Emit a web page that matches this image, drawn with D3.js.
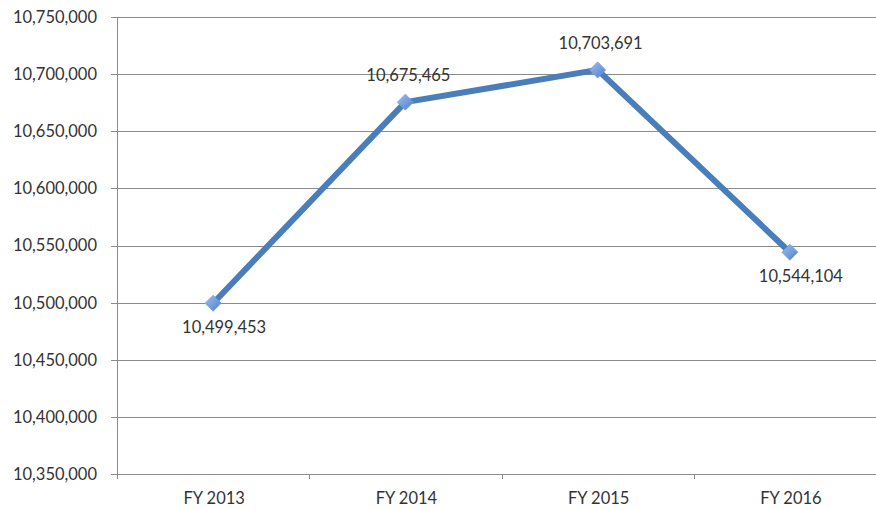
<!DOCTYPE html>
<html>
<head>
<meta charset="utf-8">
<script src="https://cdn.jsdelivr.net/npm/d3@7"></script>
<style>
  body { margin: 0; background: #fff; }
  text { font-family: Lato, "Open Sans", sans-serif; }
</style>
</head>
<body>
<div id="chart"></div>
<script>
// Chart data
const years = ["FY 2013", "FY 2014", "FY 2015", "FY 2016"];
const totals = [10499453, 10675465, 10703691, 10544104];
const yTicks = [10350000, 10400000, 10450000, 10500000, 10550000, 10600000, 10650000, 10700000, 10750000];
// where each value label sits relative to its point
const labelSide = ["below", "above", "above", "below"];

const width = 876, height = 510;

const svg = d3.select("#chart")
    .append("svg")
    .attr("width", width)
    .attr("height", height);

const x = d3.scaleBand()
    .domain(years)
    .range([117, 886]);

const y = d3.scaleLinear()
    .domain([10350000, 10750000])
    .range([474, 17]);

const fmt = d3.format(",");

// Gradient for the diamond markers
const grad = svg.append("defs").append("linearGradient")
    .attr("id", "mk")
    .attr("x1", "0").attr("y1", "0").attr("x2", "1").attr("y2", "1");
grad.append("stop").attr("offset", "0%").attr("stop-color", "#9dbdf0");
grad.append("stop").attr("offset", "100%").attr("stop-color", "#4f81c8");

// Horizontal gridlines
svg.append("g")
    .selectAll("line")
    .data(yTicks)
    .join("line")
    .attr("x1", 111)
    .attr("x2", width)
    .attr("y1", d => Math.round(y(d)) + 0.5)
    .attr("y2", d => Math.round(y(d)) + 0.5)
    .attr("stroke", "#8c8c8c")
    .attr("stroke-width", 1);

// Y axis labels
svg.append("g")
    .selectAll("text")
    .data(yTicks)
    .join("text")
    .attr("x", 97)
    .attr("y", d => y(d))
    .attr("dy", "0.36em")
    .attr("text-anchor", "end")
    .attr("font-size", "16.5px")
    .attr("fill", "#333")
    .text(d => fmt(d));

// Y axis line
svg.append("line")
    .attr("x1", 117.5).attr("x2", 117.5)
    .attr("y1", y(10750000)).attr("y2", 479)
    .attr("stroke", "#8c8c8c");

// X axis category ticks
const xBounds = years.map(d => x(d)).concat([x.range()[1]]);
svg.append("g")
    .selectAll("line")
    .data(xBounds)
    .join("line")
    .attr("x1", d => Math.round(d) + 0.5)
    .attr("x2", d => Math.round(d) + 0.5)
    .attr("y1", 474)
    .attr("y2", 479)
    .attr("stroke", "#8c8c8c");

// X axis labels
svg.append("g")
    .selectAll("text")
    .data(years)
    .join("text")
    .attr("x", d => x(d) + x.bandwidth() / 2 + 1)
    .attr("y", 504)
    .attr("text-anchor", "middle")
    .attr("font-size", "16.5px")
    .attr("fill", "#333")
    .text(d => d);

// The line
const pts = years.map((d, i) => [x(d) + x.bandwidth() / 2, y(totals[i])]);

svg.append("path")
    .datum(pts)
    .attr("d", d3.line())
    .attr("fill", "none")
    .attr("stroke", "#4a7ebb")
    .attr("stroke-width", 6)
    .attr("stroke-linejoin", "round");

// Diamond markers
svg.append("g")
    .selectAll("path")
    .data(pts)
    .join("path")
    .attr("transform", d => `translate(${d[0]},${d[1]})`)
    .attr("d", "M0,-8L8,0L0,8L-8,0Z")
    .attr("fill", "url(#mk)")
    .attr("stroke", "#6f9ee0")
    .attr("stroke-width", 0.8);

// Value labels
svg.append("g")
    .selectAll("text")
    .data(pts)
    .join("text")
    .attr("x", (d, i) => d[0] + (labelSide[i] === "below" ? 11 : 3))
    .attr("y", (d, i) => labelSide[i] === "below" ? d[1] + 30 : d[1] - 21)
    .attr("text-anchor", "middle")
    .attr("font-size", "16.5px")
    .attr("fill", "#333")
    .text((d, i) => fmt(totals[i]));
</script>
</body>
</html>
